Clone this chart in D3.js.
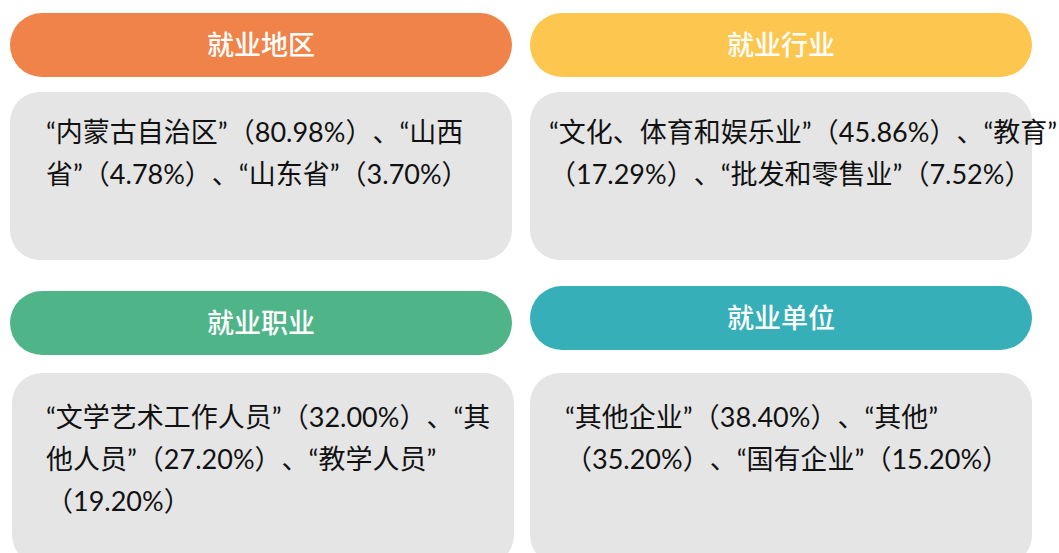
<!DOCTYPE html>
<html>
<head>
<meta charset="utf-8">
<script src="https://cdn.jsdelivr.net/npm/d3@7"></script>
<style>
  body { margin: 0; background: #fff; }
  svg { display: block; }
  text { text-spacing-trim: space-all; }
</style>
</head>
<body>
<svg id="chart" width="1059" height="553"></svg>
<script>
// titles and colours of the four cards
var titles = ["就业地区", "就业行业", "就业职业", "就业单位"];
var colors = ["#EF834A", "#FDC64F", "#50B489", "#37AFB8"];

// items shown in each card with their share (%)
var regionNames = ["内蒙古自治区", "山西省", "山东省"];
var regionShares = [80.98, 4.78, 3.70];
var industryNames = ["文化、体育和娱乐业", "教育", "批发和零售业"];
var industryShares = [45.86, 17.29, 7.52];
var jobNames = ["文学艺术工作人员", "其他人员", "教学人员"];
var jobShares = [32.00, 27.20, 19.20];
var unitNames = ["其他企业", "其他", "国有企业"];
var unitShares = [38.40, 35.20, 15.20];

var names = [regionNames, industryNames, jobNames, unitNames];
var shares = [regionShares, industryShares, jobShares, unitShares];

// card placement
var layout = [
  {hx: 10,  hy: 13,  bx: 10,  by: 92,  bh: 168, tx: 46,  ty: 142, wrap: 432},
  {hx: 530, hy: 13,  bx: 530, by: 92,  bh: 168, tx: 549, ty: 142, wrap: 530},
  {hx: 10,  hy: 291, bx: 12,  by: 373, bh: 192, tx: 46,  ty: 427, wrap: 452},
  {hx: 530, hy: 286, bx: 530, by: 373, bh: 192, tx: 565, ty: 427, wrap: 470}
];
var W = 502, HH = 64, lineH = 42;

var svg = d3.select("#chart");
var fmt = d3.format(".2f");

function buildText(i) {
  return names[i].map(function(n, k) {
    return "“" + n + "”（" + fmt(shares[i][k]) + "%）";
  }).join("、");
}

// split into unbreakable pieces (numbers stay together, punctuation sticks)
function tokens(str) {
  var raw = str.match(/[0-9.%]+|./g), out = [], carry = "";
  raw.forEach(function(t) {
    if (t === "“" || t === "（") { carry += t; return; }
    if ((t === "”" || t === "）" || t === "、") && out.length && !carry) {
      out[out.length - 1] += t; return;
    }
    out.push(carry + t); carry = "";
  });
  if (carry) out.push(carry);
  return out;
}

titles.forEach(function(title, i) {
  var L = layout[i];
  var g = svg.append("g");

  g.append("rect")
    .attr("x", L.hx).attr("y", L.hy)
    .attr("width", W).attr("height", HH)
    .attr("rx", HH / 2).attr("ry", HH / 2)
    .attr("fill", colors[i]);

  g.append("text")
    .attr("x", L.hx + W / 2).attr("y", L.hy + HH / 2)
    .attr("dy", "0.36em")
    .attr("text-anchor", "middle")
    .attr("fill", "#fff")
    .style("font-family", "'Noto Sans CJK SC'")
    .style("font-weight", 500)
    .style("font-size", "27px")
    .text(title);

  g.append("rect")
    .attr("x", L.bx).attr("y", L.by)
    .attr("width", W).attr("height", L.bh)
    .attr("rx", 30).attr("ry", 30)
    .attr("fill", "#E5E5E5");

  var txt = g.append("text")
    .attr("fill", "#111")
    .style("font-family", "Lato, 'Noto Sans CJK SC'")
    .style("font-size", "27px");

  var parts = tokens(buildText(i));
  var line = "", lines = [];
  var probe = txt.append("tspan");
  parts.forEach(function(p) {
    probe.text(line + p);
    if (line && probe.node().getComputedTextLength() > L.wrap) {
      lines.push(line); line = p;
    } else {
      line += p;
    }
  });
  lines.push(line);
  probe.remove();

  txt.selectAll("tspan").data(lines).join("tspan")
    .attr("x", L.tx)
    .attr("y", function(d, k) { return L.ty + k * lineH; })
    .text(function(d) { return d; });
});
</script>
</body>
</html>
